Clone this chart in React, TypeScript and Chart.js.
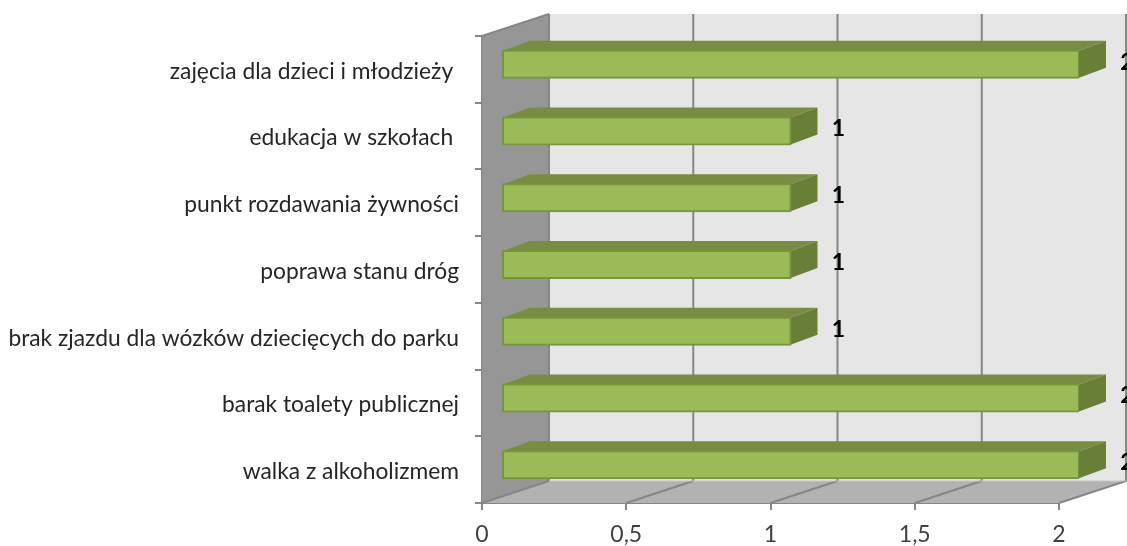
import React, { useEffect, useRef } from "react";
import { Chart, registerables } from "chart.js";

Chart.register(...registerables);

const categories = [
  "zajęcia dla dzieci i młodzieży ",
  "edukacja w szkołach ",
  "punkt rozdawania żywności",
  "poprawa stanu dróg",
  "brak zjazdu dla wózków dziecięcych do parku",
  "barak toalety publicznej",
  "walka z alkoholizmem",
];
const values = [2, 1, 1, 1, 1, 2, 2];
const xTicks = [0, 0.5, 1, 1.5, 2];

const DEPTH_X = 67;
const DEPTH_Y = 22;
const BAR_SHIFT_X = 20;
const BAR_SHIFT_Y = -5;
const BAR_DX = 27;
const BAR_DY = -10;

const poly = (ctx: CanvasRenderingContext2D, pts: number[][], fill: string) => {
  ctx.beginPath();
  pts.forEach(([x, y], i) => (i ? ctx.lineTo(x, y) : ctx.moveTo(x, y)));
  ctx.closePath();
  ctx.fillStyle = fill;
  ctx.fill();
};

const box3d = {
  id: "box3d",
  beforeDatasetsDraw(chart: any) {
    const { ctx, chartArea: a, scales } = chart;
    const l = a.left, r = a.right, t = a.top, b = a.bottom;
    const dx = DEPTH_X, dy = DEPTH_Y;
    ctx.save();
    poly(ctx, [[l + dx, t - dy], [r + dx, t - dy], [r + dx, b - dy], [l + dx, b - dy]], "#e6e6e6");
    poly(ctx, [[l, t], [l + dx, t - dy], [l + dx, b - dy], [l, b]], "#969696");
    poly(ctx, [[l, b], [l + dx, b - dy], [r + dx, b - dy], [r, b]], "#b2b2b2");
    ctx.strokeStyle = "#868686";
    ctx.lineWidth = 2;
    xTicks.forEach((v) => {
      const x = scales.x.getPixelForValue(v);
      ctx.beginPath();
      ctx.moveTo(x, b);
      ctx.lineTo(x + dx, b - dy);
      ctx.lineTo(x + dx, t - dy);
      ctx.stroke();
    });
    ctx.beginPath();
    ctx.moveTo(l, t);
    ctx.lineTo(l + dx, t - dy);
    ctx.stroke();
    ctx.strokeStyle = "#c8c8c8";
    ctx.lineWidth = 1;
    ctx.beginPath();
    ctx.moveTo(l + dx, b - dy);
    ctx.lineTo(r + dx, b - dy);
    ctx.stroke();
    ctx.restore();
  },
  beforeDatasetDraw(chart: any) {
    const { ctx } = chart;
    ctx.save();
    ctx.translate(BAR_SHIFT_X, BAR_SHIFT_Y);
    chart.getDatasetMeta(0).data.forEach((bar: any) => {
      const { x, y, base, height } = bar.getProps(["x", "y", "base", "height"]);
      const top = y - height / 2;
      const bottom = y + height / 2;
      poly(ctx, [[base, top], [base + BAR_DX, top + BAR_DY], [x + BAR_DX, top + BAR_DY], [x, top]], "#788c44");
      poly(ctx, [[x, top], [x + BAR_DX, top + BAR_DY], [x + BAR_DX, bottom + BAR_DY], [x, bottom]], "#697f38");
    });
  },
  afterDatasetDraw(chart: any) {
    const { ctx } = chart;
    ctx.restore();
    ctx.save();
    ctx.font = "bold 23px Lato";
    ctx.fillStyle = "#000000";
    ctx.textAlign = "center";
    ctx.textBaseline = "middle";
    chart.getDatasetMeta(0).data.forEach((bar: any, i: number) => {
      ctx.fillText(String(values[i]), bar.x + BAR_SHIFT_X + 48, bar.y + BAR_SHIFT_Y - 2);
    });
    ctx.restore();
  },
};

export default function App() {
  const ref = useRef<HTMLCanvasElement>(null);
  useEffect(() => {
    const chart = new Chart(ref.current!, {
      type: "bar",
      data: {
        labels: categories,
        datasets: [
          {
            data: values,
            backgroundColor: "#9bbb59",
            borderColor: "#76963c",
            borderWidth: 2,
            borderSkipped: false,
            inflateAmount: 1,
            barThickness: 27,
          },
        ],
      },
      options: {
        indexAxis: "y",
        responsive: false,
        animation: false,
        layout: { padding: { top: 36, right: 68, left: 0, bottom: 0 } },
        plugins: { legend: { display: false }, tooltip: { enabled: false } },
        scales: {
          x: {
            type: "linear",
            min: 0,
            max: 2,
            afterFit: (s: any) => { s.height = 43; },
            afterBuildTicks: (s: any) => { s.ticks = xTicks.map((value) => ({ value })); },
            grid: { drawOnChartArea: false, drawTicks: true, tickLength: 7, color: "#868686", lineWidth: 2 },
            border: { color: "#868686", width: 2 },
            ticks: {
              color: "#404040",
              font: { family: "Lato", size: 23 },
              padding: 11,
              maxRotation: 0,
              callback: (v: any) => String(v).replace(".", ","),
            },
          },
          y: {
            type: "category",
            afterFit: (s: any) => { s.width = 482; },
            grid: { drawOnChartArea: false, drawTicks: true, tickLength: 7, color: "#868686", lineWidth: 2, offset: true },
            border: { color: "#868686", width: 2 },
            ticks: {
              color: "#262626",
              font: { family: "Lato", size: 22.8 },
              padding: 16,
              labelOffset: 2,
              autoSkip: false,
            },
          },
        },
      },
      plugins: [box3d],
    } as any);
    return () => chart.destroy();
  }, []);
  return (
    <canvas
      ref={ref}
      width={1127}
      height={546}
      style={{ position: "fixed", left: 0, top: 0, width: 1127, height: 546 }}
    />
  );
}
